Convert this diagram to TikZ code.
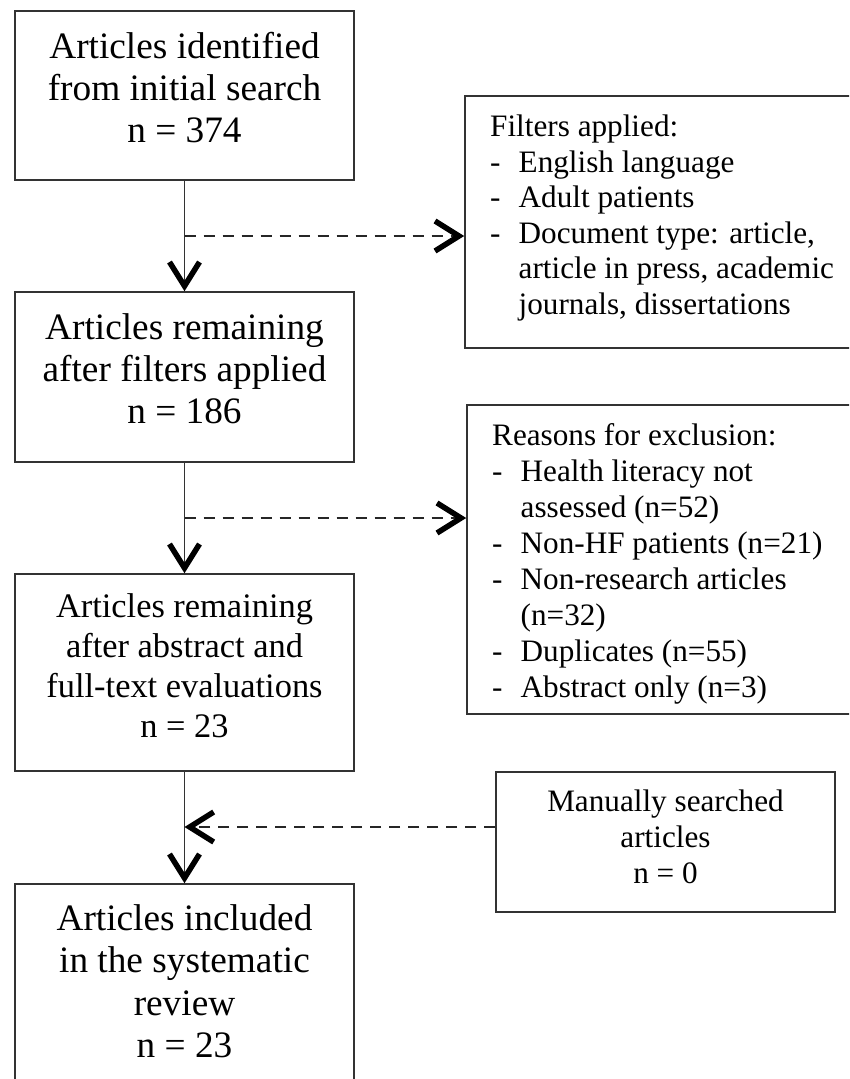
\documentclass[tikz,border=0pt]{standalone}
\usepackage{fontspec}
\setmainfont{Liberation Serif}
\usetikzlibrary{arrows.meta}
\tikzset{
  box/.style={draw=black!80, line width=1.6pt, rectangle, inner sep=0pt},
  bigtext/.style={inner sep=0pt, align=center, font=\fontsize{37.3}{42}\selectfont},
  midtext/.style={inner sep=0pt, align=center, font=\fontsize{34.4}{40}\selectfont},
  smalltext/.style={inner sep=0pt, align=left, font=\fontsize{31.2}{35.5}\selectfont},
  smallctext/.style={inner sep=0pt, align=center, font=\fontsize{31.2}{36}\selectfont},
  chev/.tip={Straight Barb[length=24pt,width=30pt,line width=5.5pt,color=black]},
  flow/.style={draw=black!80, line width=1.6pt, -chev},
  dflow/.style={draw=black!85, line width=2.6pt, dash pattern=on 11pt off 8pt, -chev},
}
\newcommand{\itm}{\makebox[28.5pt][l]{-}}
\newcommand{\cnt}{\hspace*{28.5pt}}
\begin{document}
\begin{tikzpicture}[x=1pt,y=-1pt]
\clip (0,0) rectangle (849,1079);
\fill[white] (0,0) rectangle (849,1079);

% left column boxes
\node[box, minimum width=339pt, minimum height=169pt] (b1) at (184.5,95.5) {};
\node[bigtext] (t1) at (184.5,87.3) {Articles identified\\from initial search\\n = 374};

\node[box, minimum width=339pt, minimum height=170pt] (b2) at (184.5,377) {};
\node[bigtext] (t2) at (184.5,368.8) {Articles remaining\\after filters applied\\n = 186};

\node[box, minimum width=339pt, minimum height=197pt] (b3) at (184.5,672.5) {};
\node[midtext] (t3) at (184.5,665.3) {Articles remaining\\after abstract and\\full-text evaluations\\n = 23};

\node[box, minimum width=339pt, minimum height=216pt] (b4) at (184.5,992) {};
\node[bigtext, font=\fontsize{37.3}{42.5}\selectfont] (t4) at (184.5,981) {Articles included\\in the systematic\\review\\n = 23};

% right column boxes
\node[box, minimum width=405pt, minimum height=252pt] (f) at (667.5,222) {};
\node[smalltext, anchor=west] (tf) at (490,217.8) {Filters applied:\\
\itm English language\\
\itm Adult patients\\
\itm Document type: article,\\
\cnt article in press, academic\\
\cnt journals, dissertations};

\node[box, minimum width=403pt, minimum height=309pt] (r) at (668.5,559.5) {};
\node[smalltext, anchor=west, font=\fontsize{31.2}{36}\selectfont] (tr) at (492,564.3) {Reasons for exclusion:\\
\itm Health literacy not\\
\cnt assessed (n=52)\\
\itm Non-HF patients (n=21)\\
\itm Non-research articles\\
\cnt (n=32)\\
\itm Duplicates (n=55)\\
\itm Abstract only (n=3)};

\node[box, minimum width=339pt, minimum height=140pt] (m) at (665.5,842) {};
\node[smallctext] (tm) at (665.5,836.9) {Manually searched\\articles\\n = 0};

% main flow
\draw[flow] (b1.south) -- (b2.north);
\draw[flow] (b2.south) -- (b3.north);
\draw[flow] (b3.south) -- (b4.north);

% side flows
\coordinate (d1) at (184.5,236);
\coordinate (d2) at (184.5,518);
\coordinate (d3) at (184.5,827);
\draw[dflow] (d1) -- (d1 -| f.west);
\draw[dflow] (d2) -- (d2 -| r.west);
\draw[dflow] (d3 -| m.west) -- (d3);
\end{tikzpicture}
\end{document}
